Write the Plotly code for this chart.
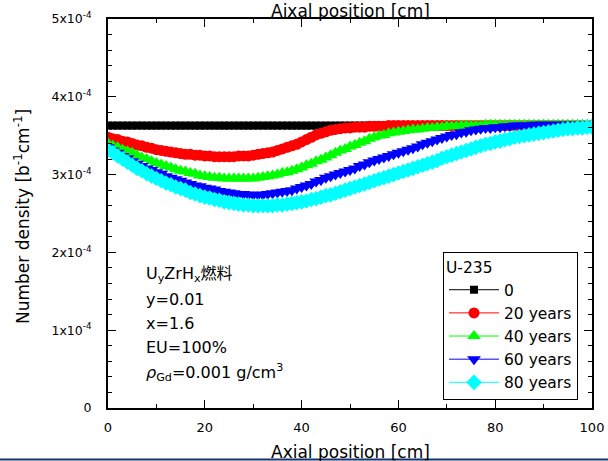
import plotly.graph_objects as go

# Axial position [cm]
pos = list(range(0, 101))

# Number density in units of 1e-4 b^-1 cm^-1
y0_e4 = [3.63] * 101

y20_e4 = [3.48, 3.46, 3.45, 3.43, 3.42, 3.40, 3.38, 3.37, 3.35, 3.34, 3.32,
          3.31, 3.30, 3.29, 3.28, 3.27, 3.26, 3.26, 3.25, 3.25, 3.24,
          3.24, 3.23, 3.23, 3.23, 3.23, 3.23, 3.24, 3.24, 3.24, 3.25,
          3.26, 3.27, 3.28, 3.29, 3.31, 3.33, 3.35, 3.37, 3.39, 3.42,
          3.45, 3.48, 3.51, 3.53, 3.55, 3.57, 3.58, 3.59, 3.60, 3.60,
          3.61, 3.61, 3.61, 3.62, 3.62, 3.62, 3.62, 3.63, 3.63, 3.63] + [3.63] * 40

y40_e4 = [3.40, 3.37, 3.35, 3.32, 3.30, 3.28, 3.25, 3.22, 3.20, 3.17, 3.15,
          3.13, 3.11, 3.09, 3.07, 3.05, 3.04, 3.02, 3.01, 2.99, 2.98,
          2.97, 2.96, 2.96, 2.95, 2.95, 2.95, 2.95, 2.95, 2.95, 2.95,
          2.96, 2.97, 2.98, 2.99, 3.00, 3.02, 3.03, 3.05, 3.07, 3.09,
          3.12, 3.14, 3.17, 3.19, 3.22, 3.25, 3.28, 3.31, 3.33, 3.36,
          3.38, 3.41, 3.43, 3.46, 3.48, 3.50, 3.51, 3.53, 3.54, 3.55,
          3.56, 3.57, 3.58, 3.58, 3.59, 3.60, 3.60, 3.61, 3.61, 3.62,
          3.62, 3.62, 3.63, 3.63, 3.63, 3.63, 3.63, 3.64, 3.64, 3.64] + [3.64] * 20

y60_e4 = [3.35, 3.31, 3.28, 3.24, 3.21, 3.17, 3.14, 3.11, 3.08, 3.06, 3.03,
          3.01, 2.98, 2.96, 2.94, 2.92, 2.90, 2.88, 2.86, 2.85, 2.83,
          2.82, 2.81, 2.79, 2.78, 2.77, 2.76, 2.75, 2.75, 2.74, 2.74,
          2.74, 2.74, 2.75, 2.76, 2.77, 2.78, 2.79, 2.80, 2.82, 2.84,
          2.86, 2.88, 2.91, 2.93, 2.96, 2.98, 3.00, 3.02, 3.04, 3.06,
          3.08, 3.11, 3.13, 3.16, 3.18, 3.20, 3.22, 3.24, 3.26, 3.28,
          3.30, 3.32, 3.34, 3.36, 3.39, 3.41, 3.43, 3.45, 3.47, 3.49,
          3.51, 3.52, 3.54, 3.55, 3.57, 3.58, 3.59, 3.60, 3.60, 3.61,
          3.61, 3.62, 3.62, 3.63, 3.63, 3.63, 3.63, 3.64, 3.64, 3.64] + [3.64] * 10

y80_e4 = [3.32, 3.28, 3.24, 3.20, 3.16, 3.12, 3.08, 3.05, 3.01, 2.98, 2.95,
          2.92, 2.89, 2.87, 2.84, 2.82, 2.80, 2.77, 2.75, 2.73, 2.71,
          2.70, 2.68, 2.67, 2.65, 2.64, 2.63, 2.62, 2.61, 2.61, 2.60,
          2.60, 2.60, 2.60, 2.60, 2.61, 2.61, 2.62, 2.63, 2.64, 2.65,
          2.66, 2.68, 2.69, 2.71, 2.73, 2.74, 2.76, 2.78, 2.80, 2.82,
          2.84, 2.86, 2.88, 2.90, 2.92, 2.94, 2.96, 2.98, 3.00, 3.02,
          3.04, 3.06, 3.08, 3.10, 3.12, 3.14, 3.16, 3.18, 3.21, 3.23,
          3.25, 3.27, 3.29, 3.31, 3.33, 3.35, 3.37, 3.39, 3.40, 3.42,
          3.43, 3.45, 3.46, 3.48, 3.49, 3.50, 3.51, 3.52, 3.53, 3.54,
          3.55, 3.56, 3.57, 3.58, 3.59, 3.59, 3.60, 3.60, 3.61, 3.61]

series_names = ["0", "20 years", "40 years", "60 years", "80 years"]
series_values = [y0_e4, y20_e4, y40_e4, y60_e4, y80_e4]
colors = ["#000000", "#ff0000", "#00ff00", "#0000ff", "#00ffff"]
symbols = ["square", "circle", "triangle-up", "triangle-down", "diamond"]
sizes = [8, 11, 12, 12, 12]

ytick_vals_e4 = [0, 1, 2, 3, 4, 5]
ytick_text = ["0", "1x10<sup>-4</sup>", "2x10<sup>-4</sup>", "3x10<sup>-4</sup>",
              "4x10<sup>-4</sup>", "5x10<sup>-4</sup>"]

FONT = "DejaVu Sans, Noto Sans CJK JP"

fig = go.Figure()
for name, vals, c, s, sz in zip(series_names, series_values, colors, symbols, sizes):
    fig.add_trace(go.Scatter(
        x=pos, y=[v * 1e-4 for v in vals], name=name, mode="lines+markers",
        line=dict(color=c, width=1),
        marker=dict(symbol=s, size=sz, color=c, line=dict(width=0)),
    ))

W, H = 608, 461
L, R, T, B = 108, 16, 19, 53
pw, ph = W - L - R, H - T - B


def px_x(p):
    return (p - L) / pw


def px_y(p):
    return (H - B - p) / ph


fig.update_layout(
    width=W, height=H,
    margin=dict(l=L, r=R, t=T, b=B, autoexpand=False),
    paper_bgcolor="white", plot_bgcolor="white",
    font=dict(family=FONT, color="black", size=13),
    showlegend=True,
    legend=dict(
        title=dict(text="U-235", font=dict(size=15.5)),
        font=dict(size=15.5),
        x=px_x(443), y=px_y(326), xanchor="left", yanchor="middle",
        bgcolor="white", bordercolor="black", borderwidth=1,
        tracegroupgap=0, itemwidth=50,
    ),
    xaxis=dict(
        range=[0, 100], dtick=20, tick0=0, automargin=False,
        showline=True, linecolor="black", linewidth=2, mirror="ticks",
        ticks="inside", ticklen=8, tickwidth=1, tickcolor="black",
        minor=dict(dtick=10, ticks="inside", ticklen=4, tickcolor="black", tickwidth=1),
        showgrid=False, zeroline=False,
        tickfont=dict(size=13), ticklabelstandoff=6,
    ),
    yaxis=dict(
        range=[0, 5e-4], automargin=False,
        tickvals=[v * 1e-4 for v in ytick_vals_e4], ticktext=ytick_text,
        showline=True, linecolor="black", linewidth=2, mirror="ticks",
        ticks="inside", ticklen=8, tickwidth=1, tickcolor="black",
        minor=dict(dtick=0.2e-4, ticks="inside", ticklen=4, tickcolor="black", tickwidth=1),
        showgrid=False, zeroline=False,
        tickfont=dict(size=12.5), ticklabelstandoff=12,
    ),
)

annotations = [
    dict(text="Aixal position [cm]", x=0.5, y=px_y(11), xanchor="center", yanchor="middle",
         font=dict(size=17)),
    dict(text="Axial position [cm]", x=0.5, y=px_y(452), xanchor="center", yanchor="middle",
         font=dict(size=17)),
    dict(text="Number density [b<sup>-1</sup>cm<sup>-1</sup>]", x=px_x(22), y=px_y(217),
         xanchor="center", yanchor="middle", textangle=-90, font=dict(size=17)),
    dict(text="U<sub>y</sub>ZrH<sub>x</sub>燃料", x=px_x(144), y=px_y(274),
         xanchor="left", yanchor="middle", font=dict(size=16)),
    dict(text="y=0.01", x=px_x(144), y=px_y(299), xanchor="left", yanchor="middle",
         font=dict(size=16)),
    dict(text="x=1.6", x=px_x(144), y=px_y(323), xanchor="left", yanchor="middle",
         font=dict(size=16)),
    dict(text="EU=100%", x=px_x(144), y=px_y(347), xanchor="left", yanchor="middle",
         font=dict(size=16)),
    dict(text="<i>ρ</i><sub>Gd</sub>=0.001 g/cm<sup>3</sup>", x=px_x(144), y=px_y(372),
         xanchor="left", yanchor="middle", font=dict(size=16)),
]
for a in annotations:
    a.update(xref="paper", yref="paper", showarrow=False)
fig.update_layout(annotations=annotations)

fig.add_shape(type="line", xref="paper", yref="paper",
              x0=px_x(0), x1=px_x(W), y0=px_y(459.5), y1=px_y(459.5),
              line=dict(color="#14346a", width=2))

fig.write_html("out.html")
